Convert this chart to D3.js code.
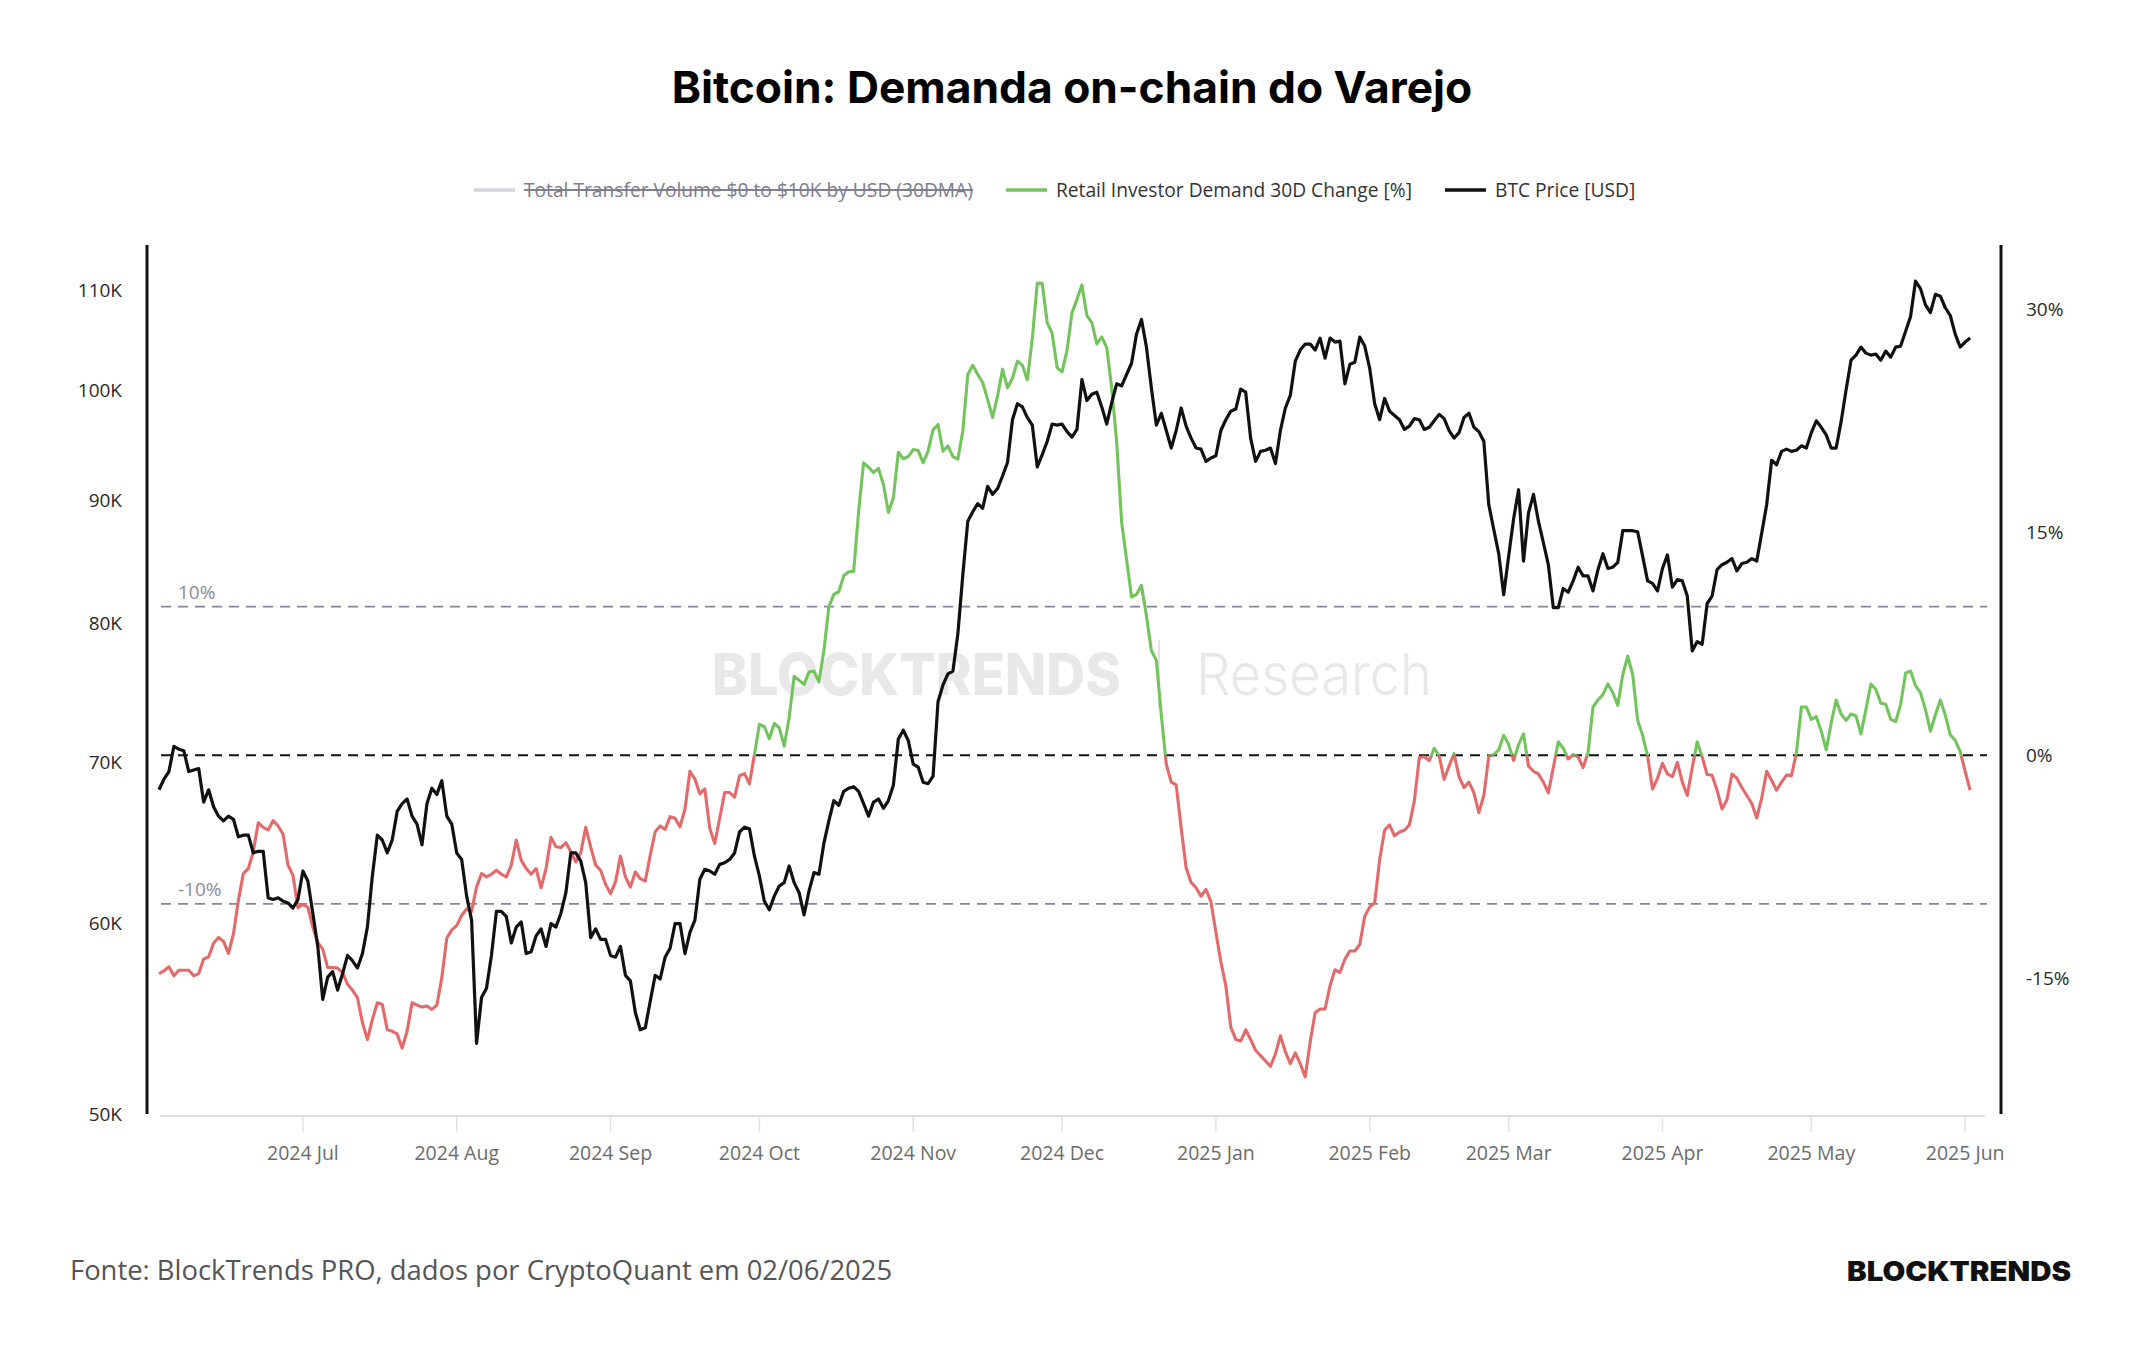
<!DOCTYPE html>
<html>
<head>
<meta charset="utf-8">
<script src="https://cdn.jsdelivr.net/npm/d3@7"></script>
<style>
  body { margin: 0; background: #fff; }
  svg { display: block; }
</style>
</head>
<body>
<script>
// daily series, 2024-06-02 .. 2025-06-02
var firstDay = "2024-06-02";
var lastDay = "2025-06-02";

// BTC price in thousands of USD, one value per day
var btcPrice = [
  68.2, 68.9, 69.4, 71.1, 70.9, 70.8, 69.4, 69.5, 69.6, 67.4,
  68.2, 67.1, 66.5, 66.2, 66.5, 66.3, 65.2, 65.3, 65.3, 64.2,
  64.3, 64.3, 61.5, 61.4, 61.5, 61.3, 61.2, 60.9, 61.4, 63.1,
  62.5, 60.6, 58.7, 55.8, 57.0, 57.3, 56.3, 57.2, 58.2, 57.9,
  57.5, 58.3, 59.8, 62.8, 65.3, 65.0, 64.2, 65.0, 66.8, 67.3,
  67.6, 66.5, 66.0, 64.7, 67.3, 68.3, 67.9, 68.8, 66.5, 66.0,
  64.2, 63.8, 61.6, 60.2, 53.5, 55.9, 56.4, 58.2, 60.7, 60.7,
  60.4, 58.9, 59.8, 60.1, 58.3, 58.4, 59.3, 59.7, 58.7, 60.0,
  59.8, 60.6, 61.8, 64.2, 64.2, 63.7, 62.4, 59.2, 59.7, 59.1,
  59.1, 58.2, 58.1, 58.7, 57.1, 56.8, 55.1, 54.2, 54.3, 55.7,
  57.1, 56.9, 58.1, 58.6, 60.0, 60.0, 58.3, 59.5, 60.2, 62.6,
  63.2, 63.1, 62.9, 63.5, 63.6, 63.8, 64.2, 65.5, 65.8, 65.7,
  64.0, 62.8, 61.3, 60.8, 61.6, 62.2, 62.4, 63.4, 62.4, 61.8,
  60.5, 61.9, 63.0, 62.9, 64.8, 66.2, 67.5, 67.2, 68.1, 68.3,
  68.4, 68.1, 67.3, 66.5, 67.4, 67.6, 67.0, 67.5, 68.5, 71.6,
  72.2, 71.5, 69.9, 69.7, 68.7, 68.6, 69.1, 74.2, 75.4, 76.2,
  76.4, 79.2, 83.8, 88.2, 89.0, 89.7, 89.3, 91.2, 90.5, 91.0,
  92.1, 93.3, 97.2, 98.7, 98.4, 97.4, 96.7, 92.9, 94.0, 95.2,
  96.8, 96.7, 96.8, 96.1, 95.6, 96.3, 101.0, 99.0, 99.6, 99.8,
  98.4, 96.8, 98.8, 100.6, 100.4, 101.5, 102.6, 105.5, 107.0, 104.2,
  100.2, 96.7, 97.8, 96.2, 94.6, 96.2, 98.3, 96.6, 95.5, 94.6,
  94.5, 93.4, 93.7, 93.9, 96.2, 97.2, 98.0, 98.2, 100.1, 99.8,
  95.5, 93.4, 94.3, 94.4, 94.6, 93.2, 96.2, 98.3, 99.5, 102.8,
  103.9, 104.5, 104.5, 103.9, 105.1, 103.1, 105.1, 104.7, 104.8, 100.6,
  102.5, 102.7, 105.2, 104.3, 102.1, 98.7, 97.2, 99.2, 98.0, 97.6,
  97.2, 96.3, 96.6, 97.3, 97.2, 96.3, 96.5, 97.1, 97.7, 97.3,
  96.2, 95.5, 96.0, 97.4, 97.8, 96.5, 96.1, 95.2, 89.6, 87.5,
  85.5, 82.2, 85.3, 88.4, 90.9, 84.9, 88.9, 90.5, 88.2, 86.4,
  84.6, 81.2, 81.2, 82.7, 82.4, 83.3, 84.4, 83.7, 83.7, 82.5,
  84.2, 85.5, 84.3, 84.4, 84.8, 87.4, 87.4, 87.4, 87.3, 85.3,
  83.3, 83.1, 82.5, 84.3, 85.4, 82.8, 83.4, 83.3, 82.1, 77.9,
  78.6, 78.4, 81.5, 82.1, 84.2, 84.6, 84.8, 85.1, 84.1, 84.7,
  84.8, 85.1, 84.9, 87.2, 89.6, 93.5, 93.1, 94.3, 94.5, 94.3,
  94.4, 94.8, 94.6, 96.0, 97.1, 96.5, 95.8, 94.6, 94.6, 97.0,
  100.0, 102.9, 103.4, 104.2, 103.6, 103.4, 103.5, 102.9, 103.8, 103.2,
  104.2, 104.3, 105.8, 107.3, 111.0, 110.2, 108.5, 107.7, 109.6, 109.4,
  108.2, 107.4, 105.5, 104.2, 104.7, 105.1
];

// Retail Investor Demand 30D Change [%], one value per day
var retailDemand = [
  -14.70, -14.52, -14.24, -14.85, -14.47, -14.47, -14.47, -14.85, -14.70, -13.72,
  -13.57, -12.66, -12.26, -12.53, -13.34, -12.03, -9.77, -7.97, -7.63, -6.50,
  -4.54, -4.85, -5.03, -4.40, -4.76, -5.30, -7.40, -8.08, -10.27, -10.05,
  -10.23, -11.58, -12.60, -13.05, -14.29, -14.29, -14.33, -14.63, -15.42, -15.82,
  -16.32, -18.01, -19.14, -17.79, -16.66, -16.77, -18.47, -18.58, -18.76, -19.71,
  -18.58, -16.66, -16.82, -16.95, -16.88, -17.11, -16.82, -14.97, -12.30, -11.76,
  -11.47, -10.79, -10.34, -10.50, -8.87, -7.97, -8.19, -8.01, -7.74, -8.01,
  -8.19, -7.40, -5.71, -7.07, -7.63, -8.01, -7.63, -8.92, -7.63, -5.53,
  -6.16, -6.21, -5.89, -6.50, -7.18, -6.57, -4.85, -6.16, -7.40, -7.74,
  -8.69, -9.32, -8.53, -6.79, -8.19, -8.87, -7.86, -8.31, -8.47, -6.73,
  -5.15, -4.76, -4.99, -4.13, -4.24, -4.81, -3.63, -1.08, -1.60, -2.60,
  -2.26, -4.92, -5.94, -4.24, -2.51, -2.51, -2.82, -1.38, -1.24, -1.92,
  0.05, 2.08, 1.92, 1.11, 2.14, 1.85, 0.61, 2.53, 5.31, 5.05,
  4.77, 5.60, 5.67, 4.95, 7.04, 10.00, 10.83, 11.01, 12.09, 12.35,
  12.38, 16.43, 19.68, 19.39, 19.03, 19.31, 18.23, 16.35, 17.33, 20.40,
  19.96, 20.11, 20.58, 20.51, 19.68, 20.47, 21.91, 22.27, 20.47, 20.83,
  20.11, 19.93, 21.84, 25.63, 26.25, 25.63, 25.09, 23.94, 22.74, 24.19,
  25.99, 24.73, 25.38, 26.53, 26.25, 25.27, 28.05, 31.77, 31.77, 29.13,
  28.41, 26.10, 25.81, 27.26, 29.78, 30.69, 31.66, 29.60, 29.13, 27.69,
  28.16, 27.44, 24.73, 21.12, 15.70, 13.18, 10.65, 10.83, 11.44, 9.39,
  7.04, 6.39, 2.71, -0.60, -1.81, -1.99, -4.87, -7.58, -8.56, -8.92,
  -9.49, -9.03, -9.86, -11.91, -13.90, -15.52, -18.30, -19.13, -19.24, -18.48,
  -19.13, -19.86, -20.22, -20.58, -20.94, -20.11, -18.88, -19.96, -20.76, -20.04,
  -20.76, -21.66, -19.31, -17.33, -17.08, -17.08, -15.52, -14.44, -14.62, -13.72,
  -13.18, -13.18, -12.74, -10.83, -10.22, -9.93, -7.04, -5.05, -4.69, -5.42,
  -5.16, -5.05, -4.69, -3.07, -0.15, -0.10, -0.36, 0.47, -0.05, -1.62,
  -0.72, 0.11, -1.44, -2.17, -1.81, -2.53, -3.86, -2.71, -0.05, 0.05,
  0.36, 1.34, 0.72, -0.36, 0.72, 1.44, -0.72, -1.08, -1.26, -1.81,
  -2.53, -0.83, 0.90, 0.47, -0.25, 0.05, -0.11, -0.83, 0.18, 3.25,
  3.72, 4.08, 4.80, 4.22, 3.36, 5.42, 6.68, 5.42, 2.35, 1.34,
  -0.05, -2.27, -1.55, -0.54, -1.26, -1.44, -0.47, -1.81, -2.71, -0.83,
  0.90, -0.11, -1.30, -1.34, -2.35, -3.61, -3.00, -1.26, -1.55, -2.17,
  -2.71, -3.25, -4.22, -2.89, -1.08, -1.70, -2.35, -1.81, -1.34, -1.37,
  0.18, 3.25, 3.25, 2.42, 2.60, 1.62, 0.36, 2.17, 3.72, 2.78,
  2.35, 2.78, 2.64, 1.44, 3.07, 4.80, 4.44, 3.50, 3.43, 2.42,
  2.27, 3.43, 5.52, 5.67, 4.69, 4.22, 3.07, 1.62, 2.71, 3.72,
  2.71, 1.37, 1.01, 0.25, -1.08, -2.35
];

var priceTicks = [50, 60, 70, 80, 90, 100, 110];
var pctTicks = [-15, 0, 15, 30];
var refLines = [10, 0, -10];
var monthTicks = ["2024-07-01", "2024-08-01", "2024-09-01", "2024-10-01", "2024-11-01", "2024-12-01",
                  "2025-01-01", "2025-02-01", "2025-03-01", "2025-04-01", "2025-05-01", "2025-06-01"];
var legendItems = [
  {name: "Total Transfer Volume $0 to $10K by USD (30DMA)", color: "#d4d4dc", off: true},
  {name: "Retail Investor Demand 30D Change [%]", color: "#74c45e", off: false},
  {name: "BTC Price [USD]", color: "#111111", off: false}
];

var parse = d3.utcParse("%Y-%m-%d");
var days = d3.utcDay.range(parse(firstDay), d3.utcDay.offset(parse(lastDay), 1));
var priceData = days.map(function(d, i) { return {date: d, v: btcPrice[i]}; });
var demandData = days.map(function(d, i) { return {date: d, v: retailDemand[i]}; });

var W = 2144, H = 1350;
var plotTop = 245, plotBottom = 1114;

var svg = d3.select("body").append("svg").attr("width", W).attr("height", H);
svg.append("rect").attr("width", W).attr("height", H).attr("fill", "#fff");

var x = d3.scaleUtc()
  .domain([parse("2024-06-02"), parse("2025-06-05")])
  .range([159, 1985]);
var yL = d3.scaleLog().domain([50, 114.9]).range([plotBottom, plotTop]);
var yR = d3.scaleLinear().domain([-24.15, 34.35]).range([plotBottom, plotTop]);

// title
svg.append("text")
  .attr("x", 1072).attr("y", 103)
  .attr("text-anchor", "middle")
  .attr("font-family", "Inter, Roboto, sans-serif")
  .attr("font-weight", 700).attr("font-size", 44.3)
  .attr("fill", "#000")
  .text("Bitcoin: Demanda on-chain do Varejo");

// legend
var legX = [474, 1006, 1445];
var leg = svg.append("g").attr("font-family", "'Open Sans', sans-serif").attr("font-size", 19.2);
legendItems.forEach(function(it, i) {
  leg.append("line")
    .attr("x1", legX[i]).attr("x2", legX[i] + 41)
    .attr("y1", 190).attr("y2", 190)
    .attr("stroke", it.color).attr("stroke-width", 3.5);
  leg.append("text")
    .attr("x", legX[i] + 50).attr("y", 197)
    .attr("fill", it.off ? "#7d7d8c" : "#333")
    .attr("text-decoration", it.off ? "line-through" : null)
    .text(it.name);
});

// watermark
var wm = svg.append("g").attr("fill", "#e8e8e8").attr("font-family", "Inter, sans-serif");
wm.append("text").attr("x", 712).attr("y", 695)
  .attr("font-size", 58).attr("font-weight", 800)
  .attr("textLength", 409).attr("lengthAdjust", "spacingAndGlyphs")
  .text("BLOCKTRENDS");
wm.append("line").attr("x1", 1159).attr("x2", 1159).attr("y1", 640).attr("y2", 708)
  .attr("stroke", "#e2e2e2").attr("stroke-width", 2);
wm.append("text").attr("x", 1196).attr("y", 695)
  .attr("font-size", 58).attr("font-weight", 300)
  .attr("textLength", 236).attr("lengthAdjust", "spacingAndGlyphs")
  .text("Research");

// reference lines
refLines.forEach(function(v) {
  svg.append("line")
    .attr("x1", 161).attr("x2", 1987)
    .attr("y1", yR(v)).attr("y2", yR(v))
    .attr("stroke", v === 0 ? "#111" : "#85859a")
    .attr("stroke-width", v === 0 ? 2 : 1.7)
    .attr("stroke-dasharray", "10,7");
  if (v !== 0) {
    svg.append("text")
      .attr("x", 178).attr("y", yR(v) - 8)
      .attr("font-family", "'Open Sans', sans-serif").attr("font-size", 19)
      .attr("fill", "#8a8a9a")
      .text(v + "%");
  }
});

// x axis
svg.append("line").attr("x1", 160).attr("x2", 1985).attr("y1", 1116).attr("y2", 1116)
  .attr("stroke", "#dcdce4").attr("stroke-width", 2);
var xt = svg.append("g");
monthTicks.forEach(function(m) {
  var d = parse(m);
  xt.append("line").attr("x1", x(d)).attr("x2", x(d)).attr("y1", 1117).attr("y2", 1132)
    .attr("stroke", "#e2e2e8").attr("stroke-width", 1.5);
  xt.append("text").attr("x", x(d)).attr("y", 1160)
    .attr("text-anchor", "middle")
    .attr("font-family", "'Open Sans', sans-serif").attr("font-size", 19.5)
    .attr("fill", "#6b6b6b")
    .text(d3.utcFormat("%Y %b")(d));
});

// left + right axes
svg.append("line").attr("x1", 147).attr("x2", 147).attr("y1", plotTop).attr("y2", plotBottom)
  .attr("stroke", "#111").attr("stroke-width", 3);
svg.append("line").attr("x1", 2001).attr("x2", 2001).attr("y1", plotTop).attr("y2", plotBottom)
  .attr("stroke", "#111").attr("stroke-width", 3);

priceTicks.forEach(function(t) {
  svg.append("text").attr("x", 122).attr("y", yL(t))
    .attr("dy", "0.35em").attr("text-anchor", "end")
    .attr("font-family", "'Open Sans', sans-serif").attr("font-size", 19)
    .attr("fill", "#2a2a2a")
    .text(t + "K");
});
pctTicks.forEach(function(t) {
  svg.append("text").attr("x", 2026).attr("y", yR(t))
    .attr("dy", "0.35em")
    .attr("font-family", "'Open Sans', sans-serif").attr("font-size", 19)
    .attr("fill", "#2a2a2a")
    .text(t + "%");
});

// demand line, green above 0, red below
var defs = svg.append("defs");
defs.append("clipPath").attr("id", "above")
  .append("rect").attr("x", 0).attr("y", 0).attr("width", W).attr("height", yR(0));
defs.append("clipPath").attr("id", "below")
  .append("rect").attr("x", 0).attr("y", yR(0)).attr("width", W).attr("height", H - yR(0));

var demandLine = d3.line().x(function(d) { return x(d.date); }).y(function(d) { return yR(d.v); });
svg.append("path").datum(demandData)
  .attr("d", demandLine).attr("fill", "none")
  .attr("stroke", "#74c45e").attr("stroke-width", 3.1).attr("stroke-linejoin", "round")
  .attr("clip-path", "url(#above)");
svg.append("path").datum(demandData)
  .attr("d", demandLine).attr("fill", "none")
  .attr("stroke", "#e36a6a").attr("stroke-width", 3.1).attr("stroke-linejoin", "round")
  .attr("clip-path", "url(#below)");

var priceLine = d3.line().x(function(d) { return x(d.date); }).y(function(d) { return yL(d.v); });
svg.append("path").datum(priceData)
  .attr("d", priceLine).attr("fill", "none")
  .attr("stroke", "#111").attr("stroke-width", 3.2).attr("stroke-linejoin", "round");

// footer
svg.append("text").attr("x", 70).attr("y", 1280)
  .attr("font-family", "'Open Sans', sans-serif").attr("font-size", 27.4)
  .attr("fill", "#555")
  .text("Fonte: BlockTrends PRO, dados por CryptoQuant em 02/06/2025");
svg.append("text").attr("x", 1847).attr("y", 1281)
  .attr("font-family", "Inter, sans-serif").attr("font-size", 27).attr("font-weight", 900)
  .attr("textLength", 224).attr("lengthAdjust", "spacingAndGlyphs")
  .attr("fill", "#111")
  .text("BLOCKTRENDS");
</script>
</body>
</html>
